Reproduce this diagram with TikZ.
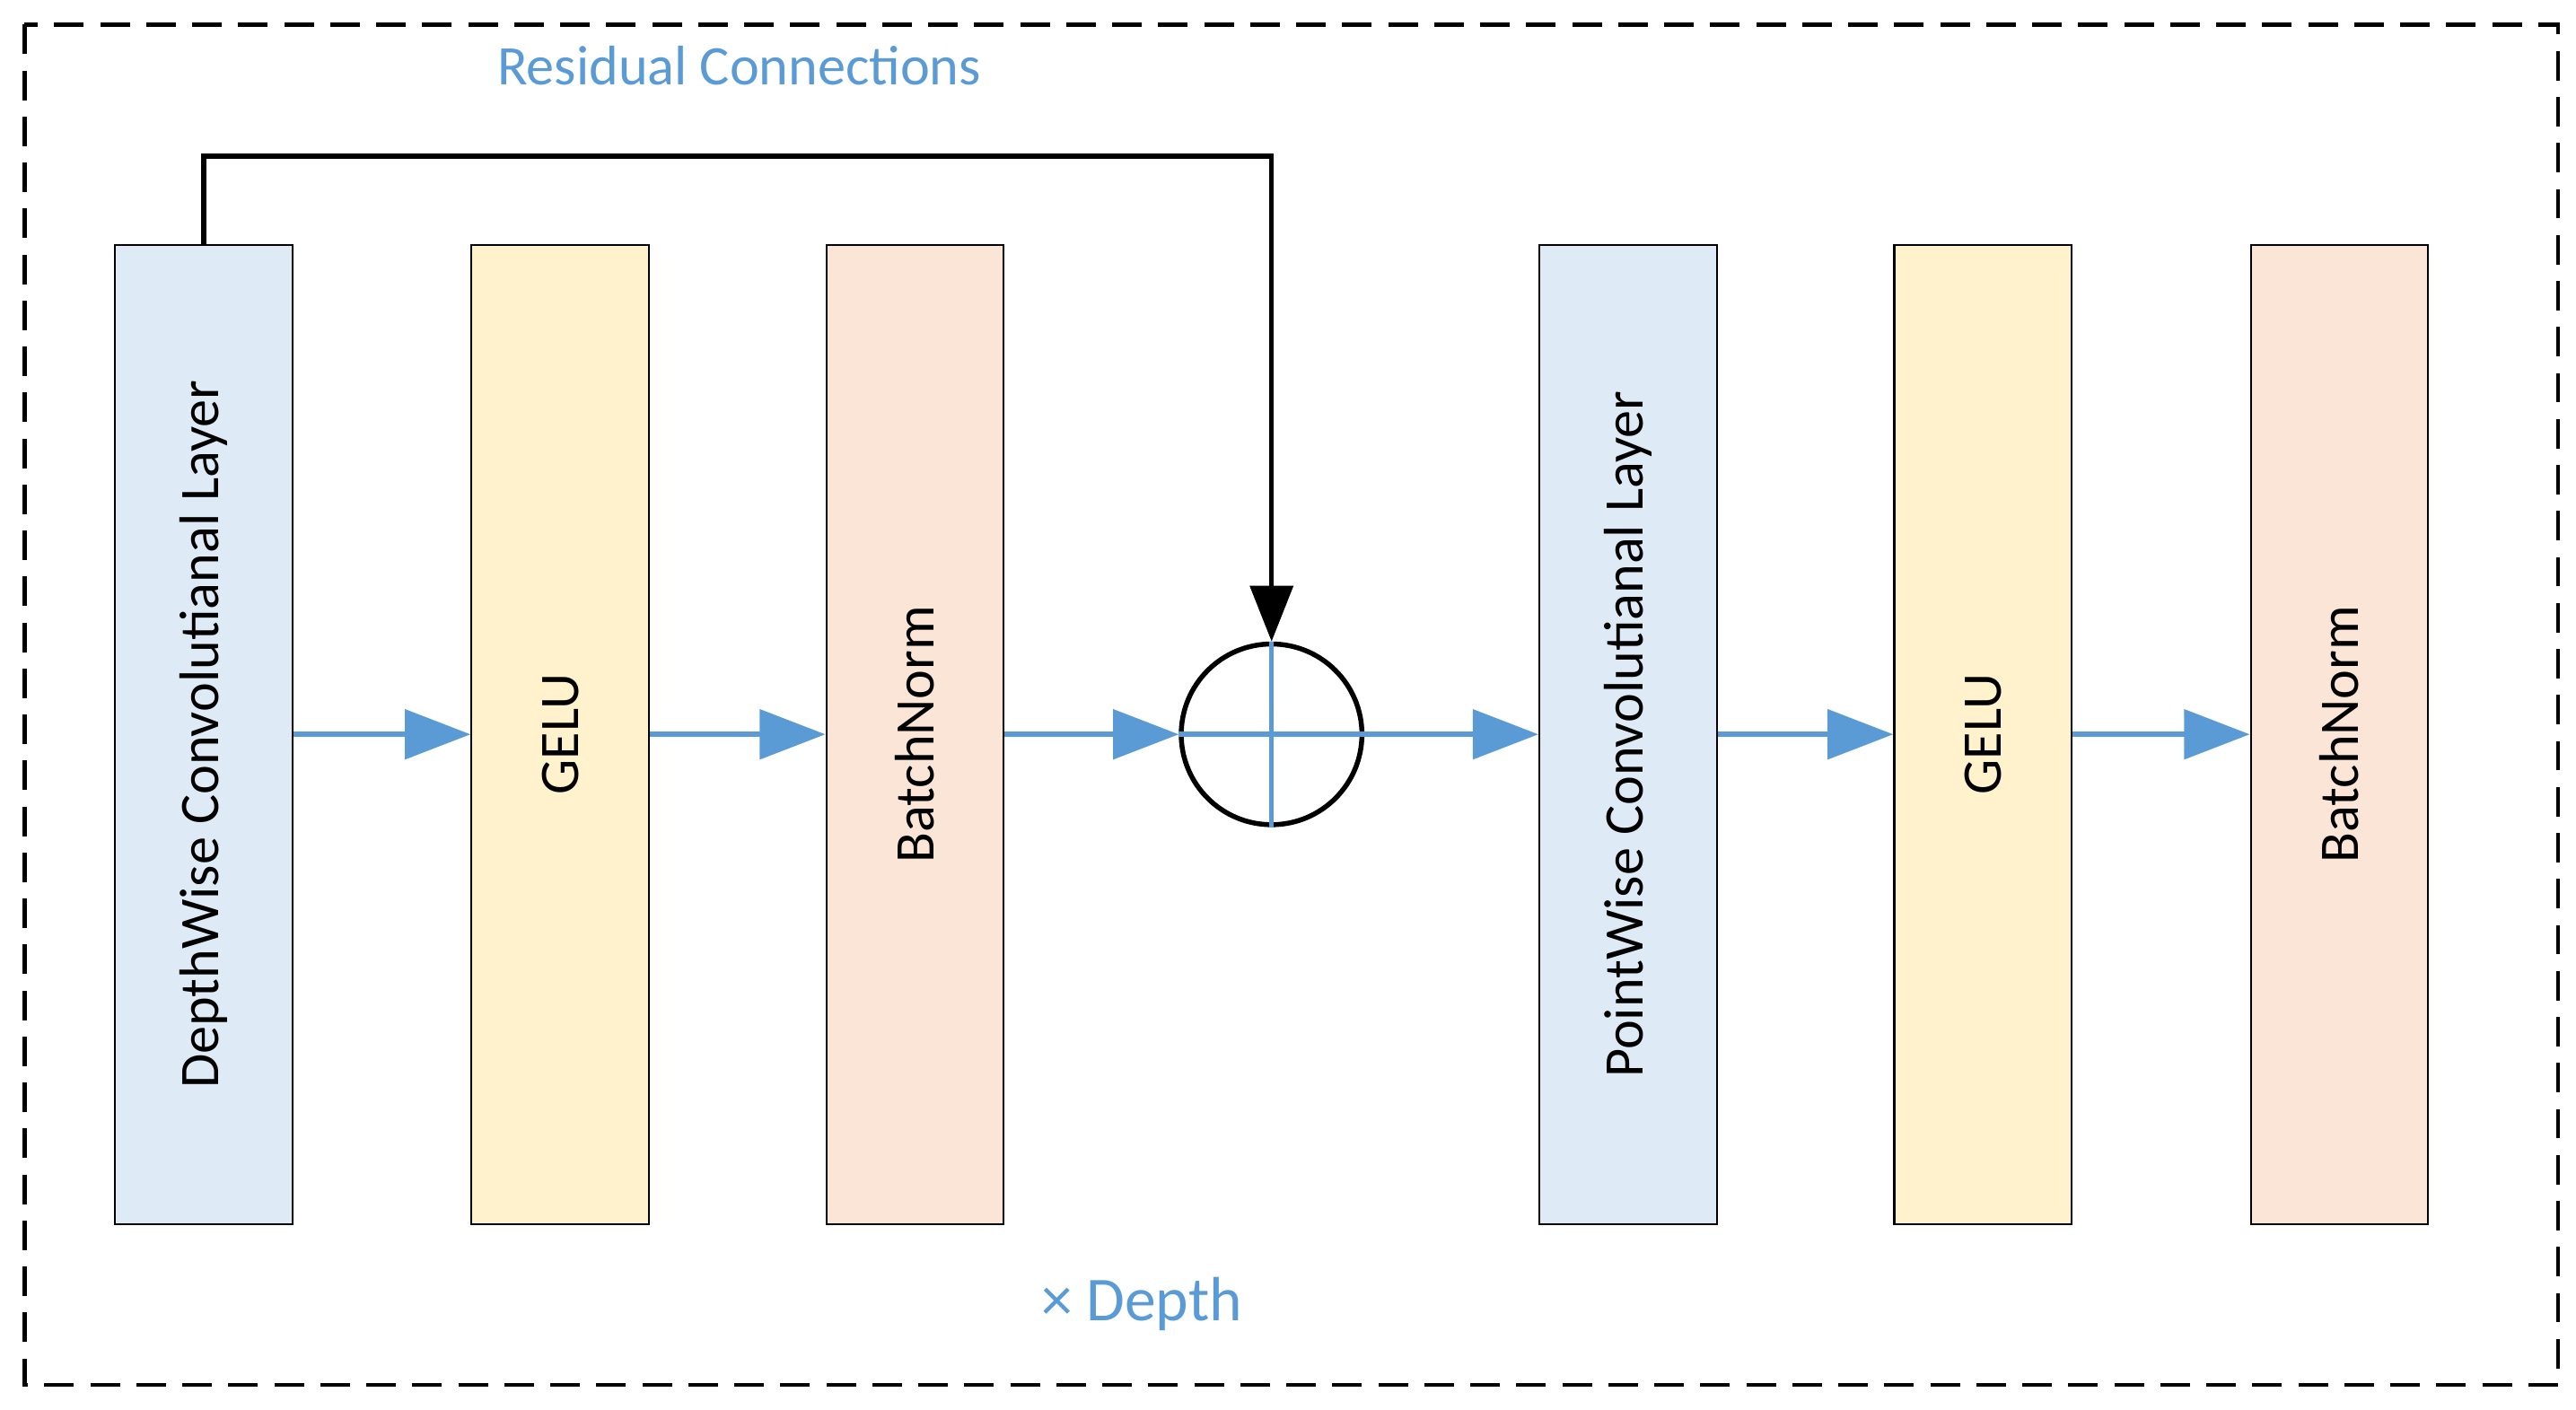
\documentclass[tikz,border=0pt]{standalone}
\usepackage{fontspec}
\setmainfont{Carlito}
\usetikzlibrary{arrows.meta,positioning}
\definecolor{flowblue}{HTML}{5B9BD5}
\definecolor{convfill}{HTML}{DEEBF7}
\definecolor{gelufill}{HTML}{FFF2CC}
\definecolor{normfill}{HTML}{FBE5D6}
\tikzset{
  layer/.style = {draw, line width=0.6pt, minimum width=54pt, minimum height=298pt,
                  inner sep=0pt, font=\fontsize{17}{20}\selectfont},
  flow/.style  = {draw=flowblue, line width=1.5pt, -{Triangle[length=20pt,width=15pt]}},
  skip/.style  = {draw=black, line width=1.5pt, -{Triangle[length=17pt,width=13pt]}}
}
\begin{document}
\begin{tikzpicture}[x=0.5pt, y=-0.5pt]
    \useasboundingbox (0,0) rectangle (1568,858);
    \draw[dashed, line width=1.2pt, dash pattern=on 9pt off 5pt] (15,15) rectangle (1557,843);

    % layers
    \node[layer, fill=convfill] (dw)  at (124,447) {\rotatebox{90}{DepthWise Convolutianal Layer}};
    \node[layer, fill=gelufill] (ga)  at (341,447) {\rotatebox{90}{GELU}};
    \node[layer, fill=normfill] (bna) at (557,447) {\rotatebox{90}{BatchNorm}};
    \node[layer, fill=convfill] (pw)  at (991,447) {\rotatebox{90}{PointWise Convolutianal Layer}};
    \node[layer, fill=gelufill] (gb)  at (1207,447) {\rotatebox{90}{GELU}};
    \node[layer, fill=normfill] (bnb) at (1424,447) {\rotatebox{90}{BatchNorm}};

    % sum
    \node[circle, draw, line width=1.5pt, minimum size=55pt, inner sep=0pt] (sum) at (774,447) {};
    \draw[flowblue, line width=1.5pt] (sum.west) -- (sum.east) (sum.north) -- (sum.south);

    \draw[flow] (dw)  -- (ga);
    \draw[flow] (ga)  -- (bna);
    \draw[flow] (bna) -- (sum.west);
    \draw[flow] (sum.east) -- (pw);
    \draw[flow] (pw)  -- (gb);
    \draw[flow] (gb)  -- (bnb);

    % residual
    \coordinate (top) at (124,95);
    \draw[skip] (dw.north) -- (dw.north |- top) -| (sum.north);

    \node[text=flowblue, font=\fontsize{17}{20}\selectfont] (res) at (450,40) {Residual Connections};
    \node[text=flowblue, font=\fontsize{19}{22}\selectfont] (dep) at (695,794) {× Depth};
\end{tikzpicture}
\end{document}
